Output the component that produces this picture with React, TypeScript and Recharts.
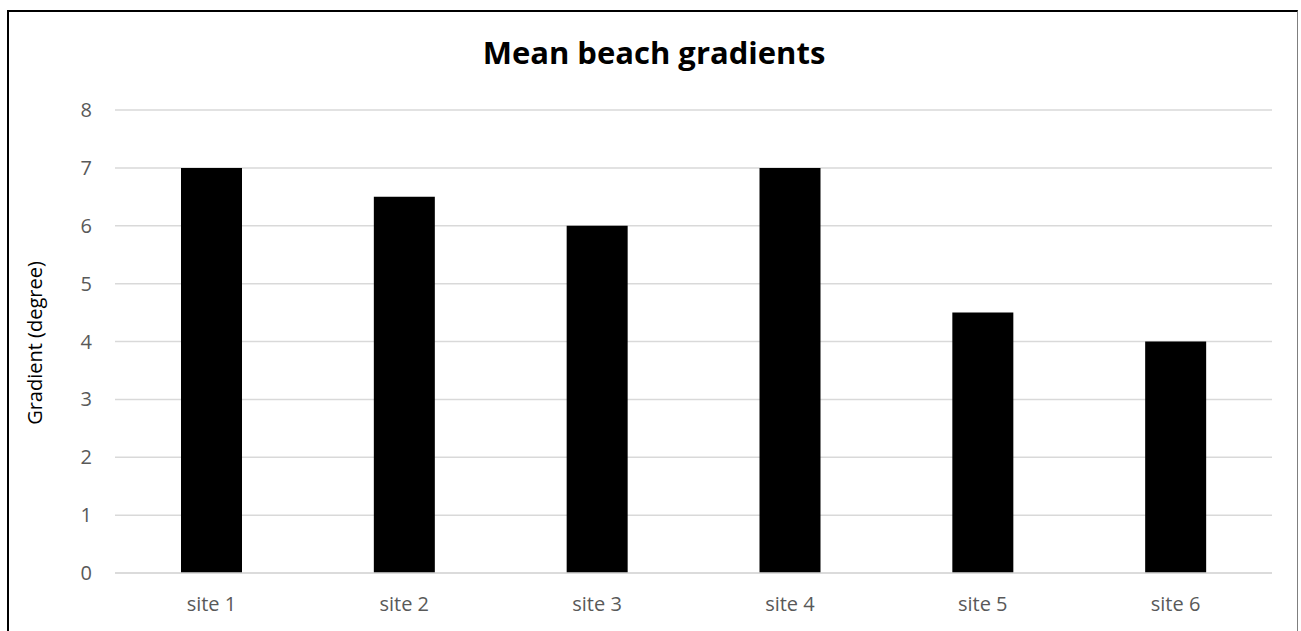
import { BarChart, Bar, XAxis, YAxis, CartesianGrid } from "recharts";

const sites = ["site 1", "site 2", "site 3", "site 4", "site 5", "site 6"];
const gradients = [7, 6.5, 6, 7, 4.5, 4];
const yTicks = [0, 1, 2, 3, 4, 5, 6, 7, 8];

const data = sites.map((site, i) => ({ site, gradient: gradients[i] }));

const font = "'Open Sans', sans-serif";
const tickStyle = { fontSize: 20, fill: "#595959", fontFamily: font };

export default function App() {
  return (
    <div style={{ position: "absolute", left: 0, top: 0, width: 1301, height: 631, background: "#fff", overflow: "hidden" }}>
      <div
        style={{
          position: "absolute",
          left: 7,
          top: 10,
          width: 1291,
          height: 640,
          borderTop: "2px solid #000",
          borderLeft: "2px solid #000",
          borderRight: "1px solid #7f7f7f",
          boxSizing: "border-box",
        }}
      />
      <div
        style={{
          position: "absolute",
          left: 7,
          width: 1294,
          top: 31,
          textAlign: "center",
          fontFamily: font,
          fontWeight: 700,
          fontSize: 31,
          color: "#000",
        }}
      >
        Mean beach gradients
      </div>
      <div
        style={{
          position: "absolute",
          left: 34,
          top: 343,
          transform: "translate(-50%, -50%) rotate(-90deg)",
          whiteSpace: "nowrap",
          fontFamily: font,
          fontSize: 20,
          color: "#000",
        }}
      >
        Gradient (degree)
      </div>
      <div style={{ position: "absolute", left: 0, top: 0 }}>
        <BarChart
          width={1301}
          height={631}
          data={data}
          margin={{ top: 110, right: 29, bottom: 0, left: 0 }}
        >
          <CartesianGrid vertical={false} stroke="#d9d9d9" strokeWidth={1.5} />
          <XAxis
            dataKey="site"
            height={58}
            tickLine={false}
            axisLine={{ stroke: "#d9d9d9", strokeWidth: 1.5 }}
            tick={tickStyle}
            tickMargin={18}
          />
          <YAxis
            width={115}
            domain={[0, 8]}
            ticks={yTicks}
            tickLine={false}
            axisLine={false}
            tick={tickStyle}
            tickMargin={17}
          />
          <Bar dataKey="gradient" fill="#000" barSize={61} isAnimationActive={false} />
        </BarChart>
      </div>
    </div>
  );
}
